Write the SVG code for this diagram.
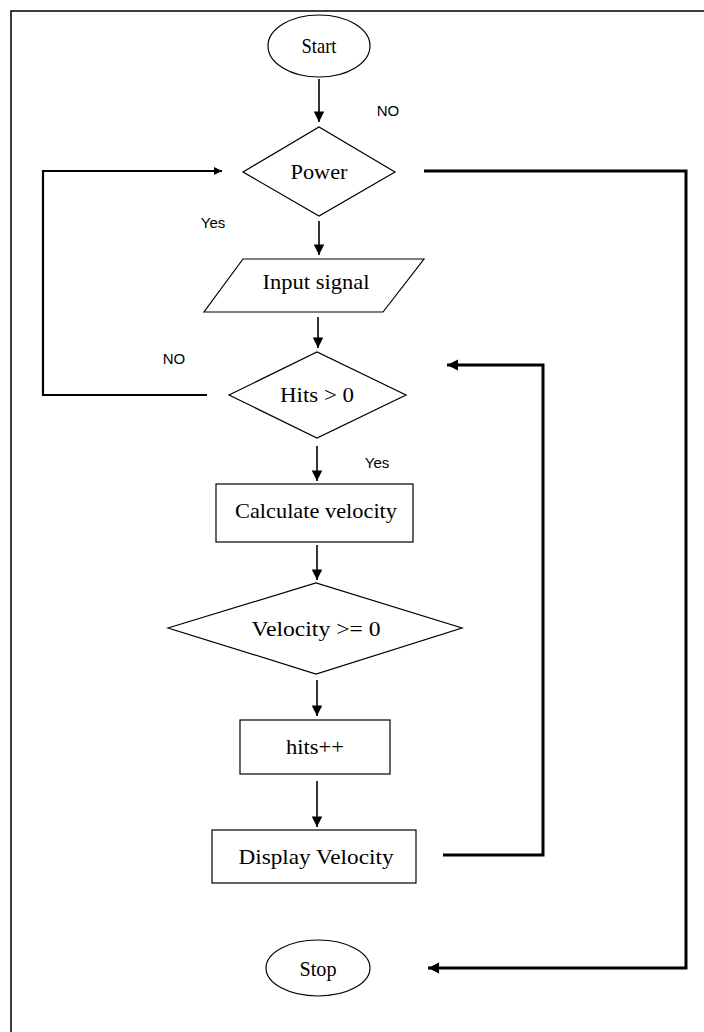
<svg xmlns="http://www.w3.org/2000/svg" width="704" height="1032" viewBox="0 0 704 1032">
<style>
.shape{fill:#fff;stroke:#000;stroke-width:1.2}
.lbl{font-family:"Liberation Serif","Times New Roman",serif;font-size:22px;fill:#000;text-anchor:middle}
.tag{font-family:"Liberation Sans",Arial,sans-serif;font-size:15px;fill:#000;text-anchor:middle}
.thin{fill:none;stroke:#000;stroke-width:1.6}
.mid{fill:none;stroke:#000;stroke-width:2.2}
.thick{fill:none;stroke:#000;stroke-width:3}
</style>
<defs>
<marker id="ah" viewBox="0 0 10 10" refX="10" refY="5" markerWidth="7" markerHeight="6.5" markerUnits="strokeWidth" orient="auto">
<path d="M0,0 L10,5 L0,10 z" fill="#000"/>
</marker>
<marker id="ahs" viewBox="0 0 10 10" refX="10" refY="5" markerWidth="3.8" markerHeight="3.8" markerUnits="strokeWidth" orient="auto">
<path d="M0,0 L10,5 L0,10 z" fill="#000"/>
</marker>
</defs>
<rect x="11" y="11" width="700" height="1030" fill="#fff" stroke="#000" stroke-width="1.5"/>
<g id="connectors">
<path class="thin" d="M319,79 V122" marker-end="url(#ah)"/>
<path class="thin" d="M319,221 V255" marker-end="url(#ah)"/>
<path class="thin" d="M318,317 V348" marker-end="url(#ah)"/>
<path class="thin" d="M317,446 V481" marker-end="url(#ah)"/>
<path class="thin" d="M317,545 V580" marker-end="url(#ah)"/>
<path class="thin" d="M317,680 V716" marker-end="url(#ah)"/>
<path class="thin" d="M317,781 V827" marker-end="url(#ah)"/>
<path class="mid" d="M207,395 H43 V171 H222" marker-end="url(#ahs)"/>
<path class="thick" d="M424,171 H686 V968 H428" marker-end="url(#ahs)"/>
<path class="thick" d="M443,855 H543 V365 H447" marker-end="url(#ahs)"/>
<text class="tag" x="388" y="116">NO</text>
<text class="tag" x="213" y="228">Yes</text>
<text class="tag" x="174" y="364">NO</text>
<text class="tag" x="377" y="468">Yes</text>
</g>
<g id="start">
<ellipse class="shape" cx="319" cy="46" rx="51" ry="31"/>
<text class="lbl" x="319" y="53" textLength="35" lengthAdjust="spacingAndGlyphs">Start</text>
</g>
<g id="power">
<polygon class="shape" points="243,172 319,127 395,172 319,216"/>
<text class="lbl" x="319" y="179" textLength="57" lengthAdjust="spacingAndGlyphs">Power</text>
</g>
<g id="input">
<polygon class="shape" points="243,259 424,259 383,312 204,312"/>
<text class="lbl" x="316" y="289" textLength="107" lengthAdjust="spacingAndGlyphs">Input signal</text>
</g>
<g id="hits">
<polygon class="shape" points="229,395 317,352 406,395 317,438"/>
<text class="lbl" x="317" y="402" textLength="74" lengthAdjust="spacingAndGlyphs">Hits &gt; 0</text>
</g>
<g id="calc">
<rect class="shape" x="216" y="484" width="197" height="58"/>
<text class="lbl" x="316" y="518" textLength="162" lengthAdjust="spacingAndGlyphs">Calculate velocity</text>
</g>
<g id="velocity">
<polygon class="shape" points="168,628 316,583 462,628 316,674"/>
<text class="lbl" x="316" y="636" textLength="129" lengthAdjust="spacingAndGlyphs">Velocity &gt;= 0</text>
</g>
<g id="hitsinc">
<rect class="shape" x="240" y="720" width="150" height="54"/>
<text class="lbl" x="315" y="754" textLength="58" lengthAdjust="spacingAndGlyphs">hits++</text>
</g>
<g id="display">
<rect class="shape" x="212" y="830" width="204" height="53"/>
<text class="lbl" x="316" y="864" textLength="155" lengthAdjust="spacingAndGlyphs">Display Velocity</text>
</g>
<g id="stop">
<ellipse class="shape" cx="318" cy="968" rx="52" ry="28"/>
<text class="lbl" x="318" y="976" textLength="37" lengthAdjust="spacingAndGlyphs">Stop</text>
</g>
</svg>
